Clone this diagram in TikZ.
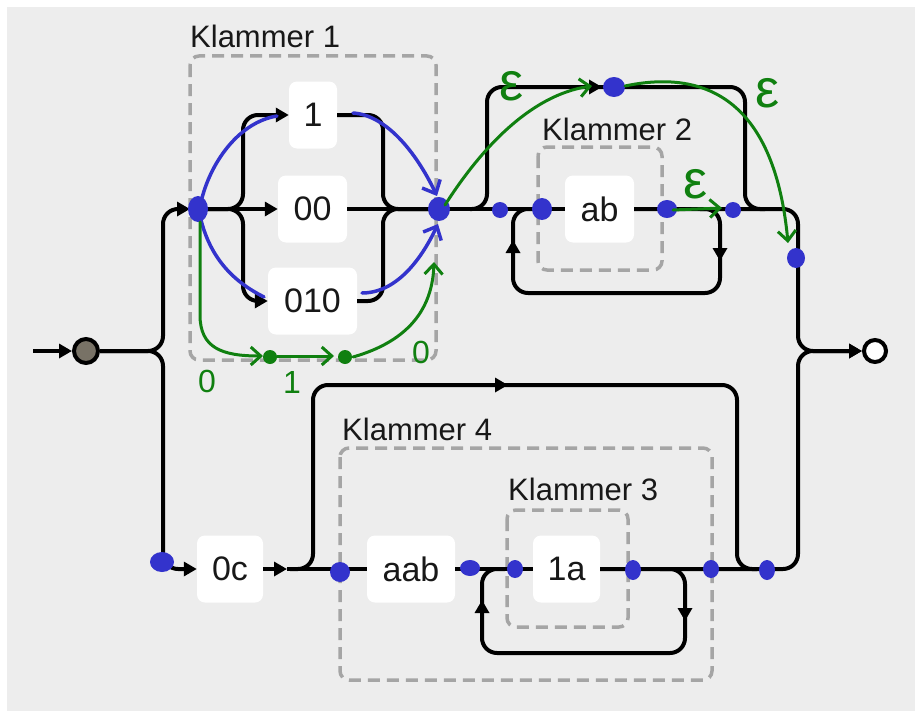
\documentclass[tikz,border=0pt]{standalone}
\usepackage{fontspec}
\setmainfont{Liberation Sans}
\usetikzlibrary{arrows.meta}
\definecolor{panel}{RGB}{237,237,237}
\definecolor{ink}{RGB}{24,24,24}
\definecolor{pen}{RGB}{51,51,204}
\definecolor{leaf}{RGB}{16,128,16}
\definecolor{frame}{RGB}{165,165,165}
\definecolor{startfill}{RGB}{120,114,102}
\begin{document}
\begin{tikzpicture}[x=1pt,y=-1pt,
  rail/.style={line width=4pt, draw=black, rounded corners=15pt},
  tip/.style={-{Triangle[length=13pt,width=14pt]}},
  term/.style={fill=white, rounded corners=8pt, minimum height=67pt, inner sep=0pt,
    font=\fontsize{34}{40}\selectfont, text=ink},
  group/.style={draw=frame, line width=3.5pt, dash pattern=on 12pt off 7pt, rounded corners=9pt},
  grouplabel/.style={anchor=base west, inner sep=0pt, font=\fontsize{31}{36}\selectfont, text=ink},
  startnode/.style={circle, draw=black, line width=4pt, fill=startfill, minimum size=24pt, inner sep=0pt},
  endnode/.style={circle, draw=black, line width=4pt, fill=white, minimum size=22pt, inner sep=0pt},
  penline/.style={draw=pen, line width=3.5pt, line cap=round},
  pentip/.style={-{Straight Barb[length=11pt,width=20pt]}},
  leafline/.style={draw=leaf, line width=3pt, line cap=round},
  leaftip/.style={-{Straight Barb[length=10pt,width=18pt]}},
  note/.style={text=leaf, inner sep=0pt, font=\fontsize{32}{34}\selectfont},
  eps/.style={text=leaf, inner sep=0pt, font=\fontsize{54}{56}\selectfont}
]
% canvas
\fill[white] (0,0) rectangle (917,717);
\useasboundingbox (0,0) rectangle (917,717);
\fill[panel] (7,7) rectangle (915,711);

% groups
\draw[group] (190,56) rectangle (436,360);
\draw[group] (538,147) rectangle (662,270);
\draw[group] (340,448) rectangle (712,680);
\draw[group] (507,510) rectangle (628,627);
\node[grouplabel] (lab1) at (190,48) {Klammer 1};
\node[grouplabel] (lab2) at (542,140) {Klammer 2};
\node[grouplabel] (lab4) at (342,440) {Klammer 4};
\node[grouplabel] (lab3) at (508,500) {Klammer 3};

% terminals
\node[term, minimum width=48pt] (n1) at (313,115) {1};
\node[term, minimum width=69pt] (n00) at (312.5,209) {00};
\node[term, minimum width=89pt] (n010) at (312.5,301) {010};
\node[term, minimum width=69pt] (nab) at (599.5,209) {ab};
\node[term, minimum width=66pt] (n0c) at (230,569) {0c};
\node[term, minimum width=88pt] (naab) at (411,569) {aab};
\node[term, minimum width=67pt] (n1a) at (566.5,569) {1a};

\node[startnode] (start) at (86,351) {};
\node[endnode] (stop) at (875,351) {};

% junctions
\coordinate (entry) at (33,351);
\coordinate (k1in) at (190,209);
\coordinate (k1out) at (438,209);
\coordinate (c0out) at (287,569);

% entry and first fork
\draw[rail,tip] (entry) -- (start);
\draw[rail,tip] (start) -- (163,351) -- (163,209) -- (k1in);
\draw[rail,tip] (start) -- (163,351) -- (163,569) -- (n0c);

% Klammer 1 alternatives
\draw[rail,tip] (k1in) -- (n00);
\draw[rail,tip] (k1in) -- (243,209) -- (243,115) -- (n1);
\draw[rail,tip] (k1in) -- (243,209) -- (243,301) -- (n010);
\draw[rail] (n1) -- (383,115) -- (383,209) -- (k1out);
\draw[rail] (n010) -- (383,301) -- (383,209) -- (k1out);
\draw[rail] (n00) -- (k1out);

% optional Klammer 2 with repetition
\draw[rail] (k1out) -- (nab);
\draw[rail] (470,209) -- (487,209) -- (487,87) -- (745,87) -- (745,209) -- (765,209);
\draw[line width=4pt,tip] (586,87) -- (602,87);
\draw[rail] (700,209) -- (720,209) -- (720,293) -- (513,293) -- (513,209) -- (535,209);
\draw[line width=4pt,tip] (513,257) -- (513,240);
\draw[line width=4pt,tip] (720,244) -- (720,261);
\draw[rail,tip] (nab) -- (798,209) -- (798,351) -- (stop);

% lower branch
\draw[rail,tip] (n0c) -- (c0out);
\draw[rail] (c0out) -- (naab);
\draw[rail] (290,569) -- (313,569) -- (313,385) -- (737,385) -- (737,569) -- (757,569);
\draw[line width=4pt,tip] (492,385) -- (508,385);
\draw[rail] (naab) -- (n1a);
\draw[rail,tip] (n1a) -- (798,569) -- (798,351) -- (stop);
\draw[rail] (660,569) -- (685,569) -- (685,653) -- (482,653) -- (482,569) -- (505,569);
\draw[line width=4pt,tip] (482,617) -- (482,600);
\draw[line width=4pt,tip] (685,604) -- (685,621);

% blue marks
\fill[pen] (198,209) ellipse (10pt and 13pt);
\fill[pen] (439,209) ellipse (11pt and 12pt);
\fill[pen] (500,210) ellipse (8pt and 8pt);
\fill[pen] (542,209) ellipse (10pt and 11pt);
\fill[pen] (614,87) ellipse (11pt and 10pt);
\fill[pen] (667,209) ellipse (10pt and 9pt);
\fill[pen] (733,210) ellipse (8pt and 8pt);
\fill[pen] (796,258) ellipse (9pt and 10pt);
\fill[pen] (162,562) ellipse (12pt and 10pt);
\fill[pen] (340,572) ellipse (10pt and 10pt);
\fill[pen] (470,568) ellipse (10pt and 8pt);
\fill[pen] (515,569) ellipse (8pt and 9pt);
\fill[pen] (633,570) ellipse (8pt and 10pt);
\fill[pen] (711,569) ellipse (8pt and 9pt);
\fill[pen] (767,570) ellipse (8pt and 10pt);

\draw[penline] (202,198) .. controls (212,160) and (240,122) .. (277,116);
\draw[penline,pentip] (353,113) .. controls (385,115) and (415,150) .. (437,196);
\draw[penline] (201,220) .. controls (210,255) and (230,280) .. (264,297);
\draw[penline,pentip] (362,293) .. controls (395,293) and (420,262) .. (438,224);

% green marks
\draw[leafline,leaftip] (200,222) -- (200,315) .. controls (200,348) and (222,356) .. (263,356);
\fill[leaf] (270,357) circle (7pt);
\draw[leafline,leaftip] (277,356) -- (334,356);
\fill[leaf] (345,357) circle (7pt);
\draw[leafline,leaftip] (353,357) .. controls (395,345) and (432,320) .. (434,262);
\node[note] (g0a) at (207,381) {0};
\node[note] (g1) at (292,382) {1};
\node[note] (g0b) at (421,352) {0};

\draw[leafline,leaftip] (445,205) .. controls (480,150) and (530,95) .. (592,86);
\draw[leafline,leaftip] (625,86) .. controls (710,68) and (775,105) .. (788,243);
\draw[leafline,leaftip] (673,210) -- (722,208);
\node[eps] (e1) at (512,86) {ε};
\node[eps] (e2) at (768,93) {ε};
\node[eps] (e3) at (696,184) {ε};
\end{tikzpicture}
\end{document}
